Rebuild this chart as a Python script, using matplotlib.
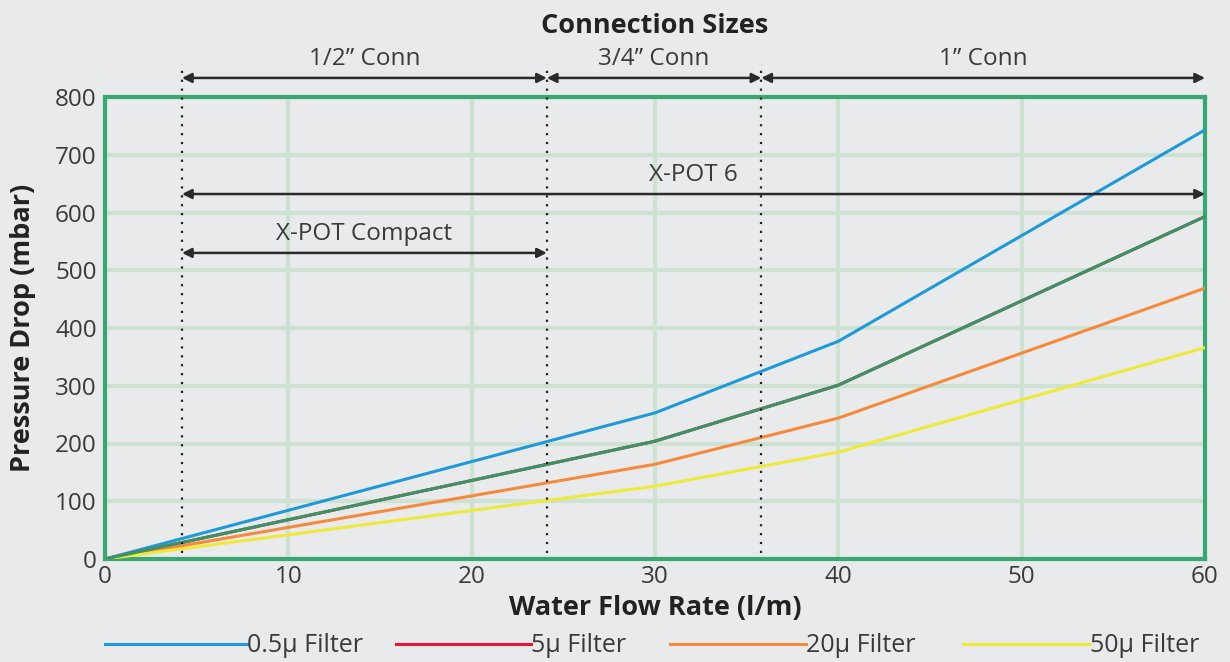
import matplotlib
matplotlib.use("Agg")
import matplotlib.pyplot as plt

flow = [0, 30, 40, 60]
filters = ["0.5μ Filter", "5μ Filter", "20μ Filter", "50μ Filter"]
drop_05 = [0, 253, 377, 743]
drop_5 = [0, 204, 301, 593]
drop_20 = [0, 164, 244, 469]
drop_50 = [0, 126, 185, 366]
colors = ["#1f9ad6", "#e8173a", "#f58a3c", "#eeea3a"]
green_line = "#3a9566"

conn_bounds = [4.2, 24.1, 35.8, 60]
conn_labels = ["1/2\u201d Conn", "3/4\u201d Conn", "1\u201d Conn"]
xpot6 = (4.2, 60, "X-POT 6")
xpotc = (4.2, 24.1, "X-POT Compact")

bg = "#e9eaec"
txt = "#3a3a3a"
plt.rcParams['font.family'] = ['Open Sans', 'DejaVu Sans']

W, H = 1230, 662
fig = plt.figure(figsize=(12.3, 6.62), dpi=100, facecolor=bg)
ax = fig.add_axes([105/W, 1-559/H, 1100/W, 462/H])
ax.set_facecolor(bg)

series = [drop_05, drop_5, drop_20, drop_50]
handles = []
for s, c, lab in zip(series, colors, filters):
    h, = ax.plot(flow, s, color=c, lw=2.2, label=lab, zorder=3, solid_joinstyle='round')
    handles.append(h)
ax.plot(flow, drop_5, color=green_line, lw=2.2, zorder=3.5)

ax.set_xlim(0, 60)
ax.set_ylim(0, 800)
ax.set_xticks(range(0, 61, 10))
ax.set_yticks(range(0, 801, 100))
ax.grid(True, color="#cde2d2", lw=3, zorder=0)
ax.set_axisbelow(True)
for sp in ax.spines.values():
    sp.set_color("#3aa672")
    sp.set_linewidth(3)
ax.tick_params(length=0, labelsize=17.5, labelcolor=txt)
ax.tick_params(axis='y', pad=6)
ax.tick_params(axis='x', pad=4)

ax.set_xlabel("Water Flow Rate (l/m)", fontsize=19.5, fontweight='bold', color="#222222")
ax.set_ylabel("Pressure Drop (mbar)", fontsize=19.5, fontweight='bold', color="#222222")
ax.xaxis.set_label_coords(0.5, -0.078)
ax.yaxis.set_label_coords(-0.063, 0.5)

# dotted vertical lines
for xv in conn_bounds[:3]:
    ax.plot([xv, xv], [10, 858], ls=(0, (1, 3)), color="#222222", lw=1.6, clip_on=False, zorder=4)

arrow_kw = dict(arrowstyle="<|-|>", color="#2a2a2a", lw=1.8, mutation_scale=14, shrinkA=0, shrinkB=0)
ycon = 833
for i, lab in enumerate(conn_labels):
    a, b = conn_bounds[i], conn_bounds[i+1]
    ax.annotate("", xy=(b, ycon), xytext=(a, ycon), arrowprops=arrow_kw, annotation_clip=False)
    ax.text((a+b)/2, ycon+12, lab, ha='center', va='bottom', fontsize=17.5, color=txt)
ax.text(30, 900, "Connection Sizes", ha='center', va='bottom', fontsize=19.5, fontweight='bold', color="#222222")

for a, b, lab, yv in [(xpot6[0], xpot6[1], xpot6[2], 632), (xpotc[0], xpotc[1], xpotc[2], 530)]:
    ax.annotate("", xy=(b, yv), xytext=(a, yv), arrowprops=arrow_kw, annotation_clip=False)
    ax.text((a+b)/2, yv+12, lab, ha='center', va='bottom', fontsize=17.5, color=txt)

# legend: one entry per legend so spacing follows the reference
leg_x = [105, 396, 670, 963]
leg_len = [142, 135, 136, 127]
fs = 18
fs_px = fs * 100 / 72
for h, lab, x0, ln in zip(handles, filters, leg_x, leg_len):
    lg = fig.legend([h], [lab], loc='center left', bbox_to_anchor=(x0/W, 1-646/H),
                    frameon=False, handlelength=ln/fs_px, handletextpad=0.0,
                    borderpad=0, borderaxespad=0, prop={'size': fs})
    for t in lg.get_texts():
        t.set_color(txt)

fig.savefig("out.png", dpi=100, facecolor=bg)
